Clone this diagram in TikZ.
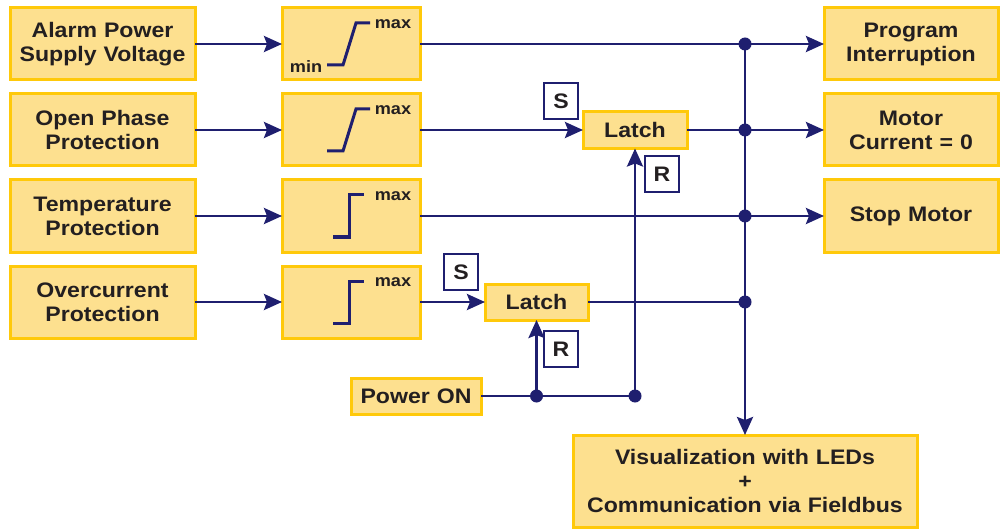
\documentclass[tikz,border=0pt]{standalone}
\usepackage{fontspec}
\setmainfont{Liberation Sans}[FakeStretch=1.1]
\usetikzlibrary{arrows.meta,positioning}
\definecolor{boxfill}{HTML}{FDE08F}
\definecolor{boxedge}{HTML}{FFC90A}
\definecolor{wire}{HTML}{1F1F6F}
\definecolor{ink}{HTML}{231F20}

\begin{document}
\begin{tikzpicture}[x=1pt,y=-1pt,
  font=\fontsize{21}{24}\selectfont\bfseries,
  box/.style={draw=boxedge,fill=boxfill,line width=3pt,align=center,text=ink,
              inner sep=0pt,outer sep=0pt,minimum height=72pt,text width=185pt},
  thr/.style={box,text width=138pt},
  latch/.style={box,text width=104pt,minimum height=37pt},
  tag/.style={draw=wire,fill=white,line width=2.5pt,text=ink,inner sep=0pt,
              outer sep=0pt,minimum width=34pt,minimum height=36pt},
  lbl/.style={text=ink,inner sep=0pt,font=\fontsize{16.5}{18}\selectfont\bfseries},
  glyph/.style={draw=wire,line width=3pt},
  ar/.style={draw=wire,line width=2.8pt,-{Stealth[length=18pt,width=16pt,inset=3pt]}},
  wr/.style={draw=wire,line width=2.8pt}]
\useasboundingbox (0,0) rectangle (1000,529);
% inputs
\node[box] (in1) at (102.5,44) {Alarm Power\\Supply Voltage};
\node[box,below=14pt of in1] (in2) {Open Phase\\Protection};
\node[box,below=14pt of in2] (in3) {Temperature\\Protection};
\node[box,below=14pt of in3] (in4) {Overcurrent\\Protection};
% thresholds
\foreach \i in {1,...,4}
  \node[thr,right=87pt of in\i] (th\i) {};
\foreach \t in {th1,th2}
  \draw[glyph] ([shift={(-24,21)}]\t.center) -- ++(16,0) -- ++(13,-42) -- ++(14,0);
\foreach \t in {th3,th4}
  \draw[glyph] ([shift={(-18,21)}]\t.center) -- ++(16,0) -- ++(0,-42) -- ++(15,0);
\foreach \t in {th1,th2,th3,th4}
  \node[lbl] (max\t) at ([shift={(42,-19.5)}]\t.center) {max};
\node[lbl] (minth1) at ([shift={(-45,23)}]th1.center) {min};
% outputs
\node[box,text width=174pt,right=404pt of th1] (out1) {Program\\Interruption};
\node[box,text width=174pt,right=404pt of th2] (out2) {Motor\\Current = 0};
\node[box,text width=174pt,right=404pt of th3] (out3) {Stop Motor};
% latches
\node[latch,right=163pt of th2] (latch1) {Latch};
\node[latch,right=65pt of th4,text width=103pt,minimum height=36pt] (latch2) {Latch};
\node[tag] (s1) at (561,101) {S};
\node[tag] (r1) at (662,174) {R};
\node[tag] (s2) at (461,272) {S};
\node[tag] (r2) at (561,349) {R};
\node[box,text width=130pt,minimum height=36pt] (pwr) at (416,396) {Power ON};
\node[box,text width=344pt,minimum height=92pt] (vis) at (745,481)
  {Visualization with LEDs\\+\\Communication via Fieldbus};
% wiring
\foreach \i in {1,...,4}
  \draw[ar] (in\i) -- (th\i);
\draw[ar] (th1) -- (out1);
\draw[ar] (th3) -- (out3);
\draw[ar] (th2) -- (latch1);
\draw[ar] (latch1) -- (out2);
\draw[ar] (th4) -- (latch2);
\draw[wr] (latch2) -- (vis.north |- latch2);
\draw[ar] (vis.north |- th1) -- (vis);
\foreach \n in {th1,latch1,th3,latch2}
  \fill[wire] (vis.north |- \n) circle (6.5pt);
\draw[wr] (pwr) -- (latch1.south |- pwr);
\draw[ar] (latch2.south |- pwr) -- (latch2);
\draw[ar] (latch1.south |- pwr) -- (latch1);
\fill[wire] (latch2.south |- pwr) circle (6.5pt);
\fill[wire] (latch1.south |- pwr) circle (6.5pt);
\end{tikzpicture}
\end{document}
